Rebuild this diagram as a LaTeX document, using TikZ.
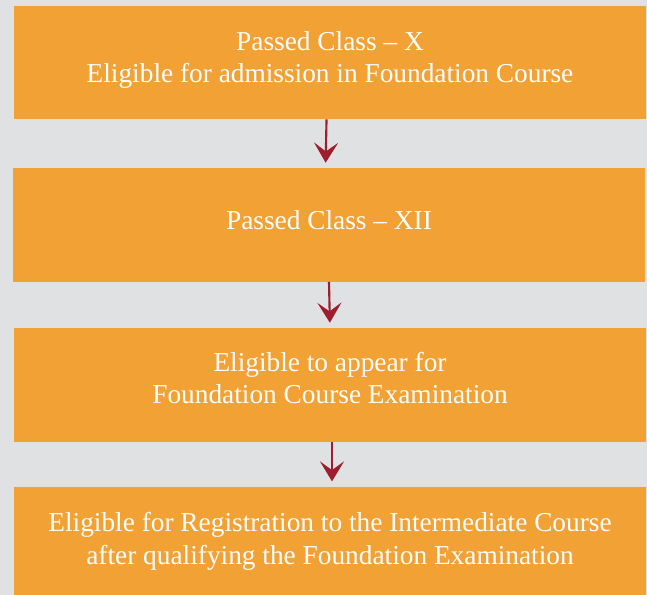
\documentclass[tikz,border=0pt]{standalone}
\usepackage{fontspec}
\setmainfont{Liberation Serif}
\usetikzlibrary{arrows.meta}
\definecolor{boxorange}{RGB}{242,161,52}
\definecolor{pagegray}{RGB}{224,225,226}
\definecolor{arrowred}{RGB}{158,30,45}

\begin{document}
\begin{tikzpicture}[x=0.75pt,y=-0.75pt]
        \tikzstyle{step box}=[fill=boxorange, text=white, minimum width=474pt, minimum height=85pt, align=center, inner sep=0pt, font=\fontsize{20.5}{24.5}\selectfont]
        \tikzstyle{down arrow}=[draw=arrowred, line width=1.6pt, shorten >=4pt, -{Stealth[length=15pt, width=18pt, inset=6.5pt]}]
        \clip (0,0) rectangle (647,595);
        \fill[pagegray] (0,0) rectangle (647,595);
        \node[step box, text depth=8pt] (x) at (330,62.5) {Passed Class -- X\\Eligible for admission in Foundation Course};
        \node[step box, text depth=7.5pt] (xii) at (329,225) {Passed Class -- XII};
        \node[step box, text depth=10.5pt] (exam) at (330,385) {Eligible to appear for\\Foundation Course Examination};
        \node[step box, minimum height=81pt] (reg) at (330,541) {Eligible for Registration to the Intermediate Course\\after qualifying the Foundation Examination};
        \draw[down arrow] ([xshift=-2.6pt]x.south) -- ([xshift=-2.6pt]xii.north);
        \draw[down arrow] ([xshift=0pt]xii.south) -- ([xshift=0pt]exam.north);
        \draw[down arrow] ([xshift=1.5pt]exam.south) -- ([xshift=1.5pt]reg.north);
      \end{tikzpicture}
\end{document}
